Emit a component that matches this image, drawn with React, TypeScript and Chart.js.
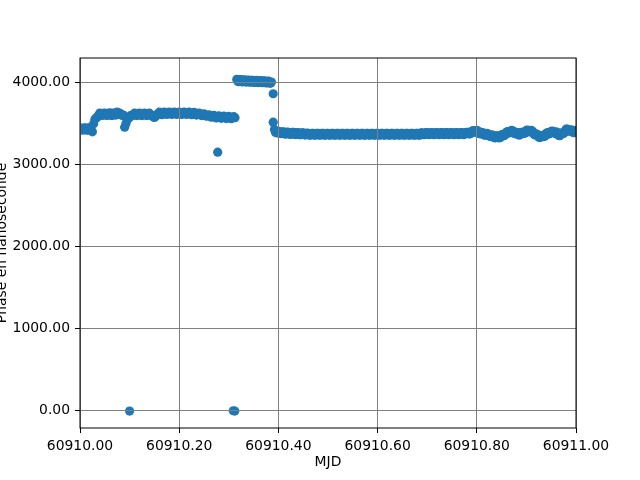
import { useEffect, useRef } from "react";
import { Chart, registerables } from "chart.js";

Chart.register(...registerables);

const MJD_BASE = 60910;
const X_MIN = 60910;
const X_MAX = 60911;
const Y_MIN = -219;
const Y_MAX = 4302;
const xTicks = [60910, 60910.2, 60910.4, 60910.6, 60910.8, 60911];
const yTicks = [0, 1000, 2000, 3000, 4000];
const xTitle = "MJD";
const yTitle = "Phase en nanoseconde";

// Segment A: first plateau (day-fraction offsets from MJD 60910)
const segAX = [
  0.0, 0.005, 0.01, 0.015, 0.02, 0.025, 0.03, 0.035, 0.04, 0.045, 0.05, 0.055,
  0.06, 0.065, 0.07, 0.075, 0.08, 0.085, 0.09, 0.095, 0.1, 0.105, 0.11, 0.115,
  0.12, 0.125, 0.13, 0.135, 0.14, 0.145, 0.15, 0.155, 0.16, 0.165, 0.17, 0.175,
  0.18, 0.185, 0.19, 0.195, 0.2, 0.205, 0.21, 0.215, 0.22, 0.225, 0.23, 0.235,
  0.24, 0.245, 0.25, 0.255, 0.26, 0.265, 0.27, 0.275, 0.28, 0.285, 0.29, 0.295,
  0.3, 0.305, 0.31,
];
const segAY = [
  3450, 3420, 3450, 3420, 3450, 3400, 3550, 3580, 3630, 3600, 3630, 3600,
  3632, 3600, 3630, 3640, 3630, 3600, 3457, 3540, 3580, 3595, 3628, 3598,
  3630, 3598, 3630, 3598, 3628, 3595, 3575, 3610, 3640, 3610, 3640, 3612,
  3642, 3612, 3642, 3612, 3642, 3612, 3642, 3612, 3640, 3610, 3638, 3605,
  3630, 3598, 3620, 3590, 3608, 3578, 3600, 3570, 3595, 3565, 3592, 3562,
  3590, 3560, 3585,
];
const segAMidX = [
  0.0025, 0.0075, 0.0125, 0.0175, 0.0225, 0.0275, 0.0325, 0.0375, 0.0425,
  0.0475, 0.0525, 0.0575, 0.0625, 0.0675, 0.0725, 0.0775, 0.0825, 0.0875,
  0.0925, 0.0975, 0.1025, 0.1075, 0.1125, 0.1175, 0.1225, 0.1275, 0.1325,
  0.1375, 0.1425, 0.1475, 0.1525, 0.1575, 0.1625, 0.1675, 0.1725, 0.1775,
  0.1825, 0.1875, 0.1925, 0.1975, 0.2025, 0.2075, 0.2125, 0.2175, 0.2225,
  0.2275, 0.2325, 0.2375, 0.2425, 0.2475, 0.2525, 0.2575, 0.2625, 0.2675,
  0.2725, 0.2775, 0.2825, 0.2875, 0.2925, 0.2975, 0.3025, 0.3075, 0.3125,
];
const segAMidY = [
  3425, 3445, 3422, 3448, 3420, 3500, 3570, 3600, 3612, 3625, 3605, 3625,
  3602, 3628, 3605, 3625, 3612, 3605, 3500, 3565, 3600, 3612, 3605, 3622,
  3604, 3624, 3605, 3622, 3605, 3585, 3590, 3622, 3628, 3624, 3630, 3625,
  3630, 3626, 3630, 3626, 3630, 3626, 3630, 3625, 3626, 3622, 3620, 3616,
  3612, 3608, 3604, 3598, 3594, 3590, 3586, 3582, 3580, 3578, 3576, 3575,
  3574, 3572, 3572,
];

// Segment B: jump near 4000 ns
const segBX = [
  0.316, 0.32, 0.324, 0.328, 0.332, 0.336, 0.34, 0.344, 0.348, 0.352, 0.356,
  0.36, 0.364, 0.368, 0.372, 0.376, 0.38, 0.384,
];
const segBY = [
  4040, 4012, 4038, 4010, 4035, 4008, 4032, 4006, 4030, 4004, 4028, 4002, 4026,
  4000, 4024, 3998, 4020, 3995,
];
const segBMidX = [
  0.318, 0.322, 0.326, 0.33, 0.334, 0.338, 0.342, 0.346, 0.35, 0.354, 0.358,
  0.362, 0.366, 0.37, 0.374, 0.378, 0.382, 0.386,
];
const segBMidY = [
  4018, 4035, 4014, 4032, 4012, 4030, 4010, 4028, 4008, 4026, 4006, 4024, 4004,
  4020, 4002, 4016, 3998, 4008,
];

// Isolated points
const outlierX = [0.1, 0.309, 0.312, 0.2776, 0.3895, 0.3895];
const outlierY = [-12, -8, -12, 3151, 3865, 3518];

// Segment C: second plateau
const segCX = [
  0.392, 0.396, 0.4, 0.405, 0.41, 0.415, 0.42, 0.425, 0.43, 0.435, 0.44, 0.445,
  0.45, 0.455, 0.46, 0.465, 0.47, 0.475, 0.48, 0.485, 0.49, 0.495, 0.5, 0.505,
  0.51, 0.515, 0.52, 0.525, 0.53, 0.535, 0.54, 0.545, 0.55, 0.555, 0.56, 0.565,
  0.57, 0.575, 0.58, 0.585, 0.59, 0.595, 0.6, 0.605, 0.61, 0.615, 0.62, 0.625,
  0.63, 0.635, 0.64, 0.645, 0.65, 0.655, 0.66, 0.665, 0.67, 0.675, 0.68, 0.685,
  0.69, 0.695, 0.7, 0.705, 0.71, 0.715, 0.72, 0.725, 0.73, 0.735, 0.74, 0.745,
  0.75, 0.755, 0.76, 0.765, 0.77, 0.775, 0.78, 0.785, 0.79, 0.795, 0.8, 0.805,
  0.81, 0.815, 0.82, 0.825, 0.83, 0.835, 0.84, 0.845, 0.85, 0.855, 0.86, 0.865,
  0.87, 0.875, 0.88, 0.885, 0.89, 0.895, 0.9, 0.905, 0.91, 0.915, 0.92, 0.925,
  0.93, 0.935, 0.94, 0.945, 0.95, 0.955, 0.96, 0.965, 0.97, 0.975, 0.98, 0.985,
  0.99, 0.995, 1.0,
];
const segCY = [
  3427, 3388, 3407, 3378, 3400, 3373, 3395, 3369, 3392, 3366, 3389, 3364,
  3387, 3362, 3382, 3358, 3382, 3358, 3382, 3358, 3382, 3358, 3382, 3358,
  3382, 3358, 3382, 3358, 3382, 3358, 3382, 3358, 3382, 3358, 3382, 3358,
  3382, 3358, 3382, 3358, 3382, 3358, 3382, 3358, 3382, 3358, 3382, 3358,
  3382, 3358, 3382, 3358, 3382, 3358, 3382, 3358, 3382, 3358, 3382, 3358,
  3386, 3364, 3390, 3366, 3390, 3366, 3390, 3366, 3390, 3366, 3390, 3366,
  3390, 3366, 3390, 3366, 3390, 3366, 3392, 3373, 3407, 3396, 3417, 3380,
  3392, 3360, 3380, 3348, 3362, 3328, 3350, 3326, 3362, 3353, 3397, 3388,
  3417, 3383, 3394, 3360, 3390, 3380, 3417, 3403, 3417, 3373, 3374, 3333,
  3352, 3340, 3382, 3373, 3407, 3388, 3400, 3356, 3374, 3380, 3432, 3413,
  3424, 3390, 3417,
];
const segCMidX = [
  0.394, 0.398, 0.4025, 0.4075, 0.4125, 0.4175, 0.4225, 0.4275, 0.4325, 0.4375,
  0.4425, 0.4475, 0.4525, 0.4575, 0.4625, 0.4675, 0.4725, 0.4775, 0.4825,
  0.4875, 0.4925, 0.4975, 0.5025, 0.5075, 0.5125, 0.5175, 0.5225, 0.5275,
  0.5325, 0.5375, 0.5425, 0.5475, 0.5525, 0.5575, 0.5625, 0.5675, 0.5725,
  0.5775, 0.5825, 0.5875, 0.5925, 0.5975, 0.6025, 0.6075, 0.6125, 0.6175,
  0.6225, 0.6275, 0.6325, 0.6375, 0.6425, 0.6475, 0.6525, 0.6575, 0.6625,
  0.6675, 0.6725, 0.6775, 0.6825, 0.6875, 0.6925, 0.6975, 0.7025, 0.7075,
  0.7125, 0.7175, 0.7225, 0.7275, 0.7325, 0.7375, 0.7425, 0.7475, 0.7525,
  0.7575, 0.7625, 0.7675, 0.7725, 0.7775, 0.7825, 0.7875, 0.7925, 0.7975,
  0.8025, 0.8075, 0.8125, 0.8175, 0.8225, 0.8275, 0.8325, 0.8375, 0.8425,
  0.8475, 0.8525, 0.8575, 0.8625, 0.8675, 0.8725, 0.8775, 0.8825, 0.8875,
  0.8925, 0.8975, 0.9025, 0.9075, 0.9125, 0.9175, 0.9225, 0.9275, 0.9325,
  0.9375, 0.9425, 0.9475, 0.9525, 0.9575, 0.9625, 0.9675, 0.9725, 0.9775,
  0.9825, 0.9875, 0.9925, 0.9975,
];
const segCMidY = [
  3395, 3410, 3380, 3401, 3374, 3396, 3370, 3392, 3367, 3389, 3365, 3387,
  3363, 3384, 3360, 3382, 3360, 3382, 3360, 3382, 3360, 3382, 3360, 3382,
  3360, 3382, 3360, 3382, 3360, 3382, 3360, 3382, 3360, 3382, 3360, 3382,
  3360, 3382, 3360, 3382, 3360, 3382, 3360, 3382, 3360, 3382, 3360, 3382,
  3360, 3382, 3360, 3382, 3360, 3382, 3360, 3382, 3360, 3382, 3360, 3386,
  3366, 3390, 3366, 3390, 3366, 3390, 3366, 3390, 3366, 3390, 3366, 3390,
  3366, 3390, 3366, 3390, 3366, 3390, 3394, 3378, 3414, 3395, 3410, 3374,
  3388, 3358, 3376, 3343, 3357, 3327, 3350, 3332, 3369, 3363, 3404, 3390,
  3412, 3376, 3389, 3363, 3397, 3386, 3422, 3398, 3407, 3361, 3365, 3330,
  3358, 3349, 3389, 3378, 3409, 3382, 3390, 3353, 3389, 3394, 3434, 3406,
  3419, 3391,
];

const FONT = "DejaVu Sans";
const FONT_SIZE = 13.9;

function toPoints(xs: number[], ys: number[]) {
  return xs.map((dx, i) => ({ x: MJD_BASE + dx, y: ys[i] }));
}

const framePlugin = {
  id: "frameAndTitles",
  afterDraw(chart: any) {
    const ctx = chart.ctx as CanvasRenderingContext2D;
    const { left, right, top, bottom } = chart.chartArea;
    ctx.save();
    ctx.strokeStyle = "#000";
    ctx.lineWidth = 1;
    ctx.strokeRect(left, top, right - left, bottom - top);
    ctx.fillStyle = "#000";
    ctx.font = `${FONT_SIZE}px "${FONT}"`;
    ctx.textAlign = "center";
    ctx.textBaseline = "alphabetic";
    ctx.fillText(xTitle, (left + right) / 2, 466);
    ctx.translate(5.5, (top + bottom) / 2);
    ctx.rotate(-Math.PI / 2);
    ctx.fillText(yTitle, 0, 0);
    ctx.restore();
  },
};

export default function App() {
  const ref = useRef<HTMLCanvasElement | null>(null);
  useEffect(() => {
    if (!ref.current) return;
    Chart.defaults.font.family = FONT;
    Chart.defaults.font.size = FONT_SIZE;
    Chart.defaults.color = "#000";
    const allPoints = [
      ...toPoints(segAX, segAY),
      ...toPoints(segAMidX, segAMidY),
      ...toPoints(segBX, segBY),
      ...toPoints(segBMidX, segBMidY),
      ...toPoints(outlierX, outlierY),
      ...toPoints(segCX, segCY),
      ...toPoints(segCMidX, segCMidY),
    ];
    const gridOpts = {
      z: 1,
      color: "#808080",
      tickColor: "#000",
      tickLength: 5,
      lineWidth: 1,
    };
    const chart = new Chart(ref.current, {
      type: "scatter",
      data: {
        datasets: [
          {
            data: allPoints,
            backgroundColor: "#1f77b4",
            borderWidth: 0,
            pointRadius: 4.6,
            pointHoverRadius: 4.6,
            clip: 0,
          },
        ],
      },
      plugins: [framePlugin],
      options: {
        animation: false,
        responsive: false,
        devicePixelRatio: 1,
        events: [],
        layout: { padding: { top: 58, right: 64, left: 0, bottom: 0 } },
        plugins: {
          legend: { display: false },
          tooltip: { enabled: false },
        },
        scales: {
          x: {
            type: "linear",
            min: X_MIN,
            max: X_MAX,
            afterFit: (s: any) => {
              s.height = 52;
            },
            afterBuildTicks: (s: any) => {
              s.ticks = xTicks.map((v) => ({ value: v }));
            },
            ticks: {
              padding: 5,
              maxRotation: 0,
              autoSkip: false,
              callback: (v: any) => Number(v).toFixed(2),
            },
            grid: gridOpts,
            border: { display: false },
          },
          y: {
            type: "linear",
            min: Y_MIN,
            max: Y_MAX,
            afterFit: (s: any) => {
              s.width = 80;
            },
            afterBuildTicks: (s: any) => {
              s.ticks = yTicks.map((v) => ({ value: v }));
            },
            ticks: {
              padding: 5,
              autoSkip: false,
              callback: (v: any) => Number(v).toFixed(2),
            },
            grid: gridOpts,
            border: { display: false },
          },
        },
      },
    });
    return () => chart.destroy();
  }, []);
  return (
    <div style={{ position: "absolute", left: 0, top: 0, width: 640, height: 480, background: "#fff" }}>
      <canvas ref={ref} width={640} height={480} style={{ display: "block" }} />
    </div>
  );
}
